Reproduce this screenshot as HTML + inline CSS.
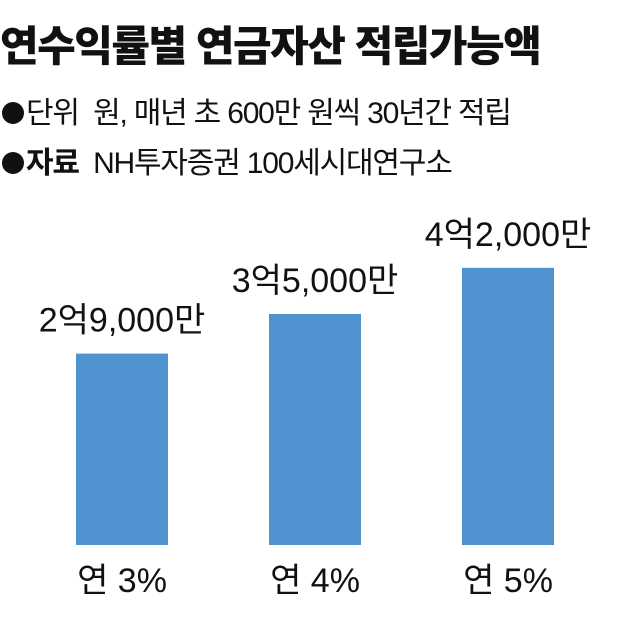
<!DOCTYPE html>
<html><head><meta charset="utf-8"><style>
body{margin:0;width:640px;height:636px;background:#fff;overflow:hidden;font-family:"Liberation Sans","Noto Sans CJK KR",sans-serif;color:#111}
.t{position:absolute;white-space:nowrap}
.b{display:inline-block;width:22px;height:22px;border-radius:50%;background:#111;margin:0 2px 0 2px;vertical-align:-1px}
</style></head><body>
<div class="t" style="left:0;top:13px;font-size:42px;font-weight:900;letter-spacing:-1.5px">연수익률별 연금자산 적립가능액</div>
<div class="t" style="left:0;top:88px;font-size:30px;letter-spacing:-1.2px"><span class="b"></span>단위&nbsp; 원, 매년 초 600만 원씩 30년간 적립</div>
<div class="t" style="left:0;top:138px;font-size:30px;letter-spacing:-1.2px"><span class="b"></span><b>자료</b>&nbsp; NH투자증권 100세시대연구소</div>
<svg id="c" width="640" height="636" style="position:absolute;left:0;top:0"></svg>
<script>
const categories=["연 3%","연 4%","연 5%"];
const values=[2.9,3.5,4.2];
const valueLabels=["2억9,000만","3억5,000만","4억2,000만"];
const svg=document.getElementById('c');
const NS='http://www.w3.org/2000/svg';
const base=545,scale=66,left=76,step=193,bw=92;
function y(v){return base-v*scale;}
function x(i){return left+i*step;}
values.forEach((v,i)=>{
  const r=document.createElementNS(NS,'rect');
  r.setAttribute('x',x(i));r.setAttribute('y',y(v));r.setAttribute('width',bw);r.setAttribute('height',base-y(v));r.setAttribute('fill','#4e92d0');
  
  
  svg.appendChild(r);
  const t=document.createElementNS(NS,'text');
  t.setAttribute('x',x(i)+bw/2);t.setAttribute('y',y(v)-22);t.setAttribute('text-anchor','middle');
  t.setAttribute('font-size','34');t.setAttribute('fill','#111');
  t.textContent=valueLabels[i];
  
  
  svg.appendChild(t);
  const c=document.createElementNS(NS,'text');
  c.setAttribute('x',x(i)+bw/2);c.setAttribute('y',592);c.setAttribute('text-anchor','middle');
  c.setAttribute('font-size','34');c.setAttribute('fill','#111');
  c.textContent=categories[i];
  
  
  svg.appendChild(c);
});
</script>
</body></html>
